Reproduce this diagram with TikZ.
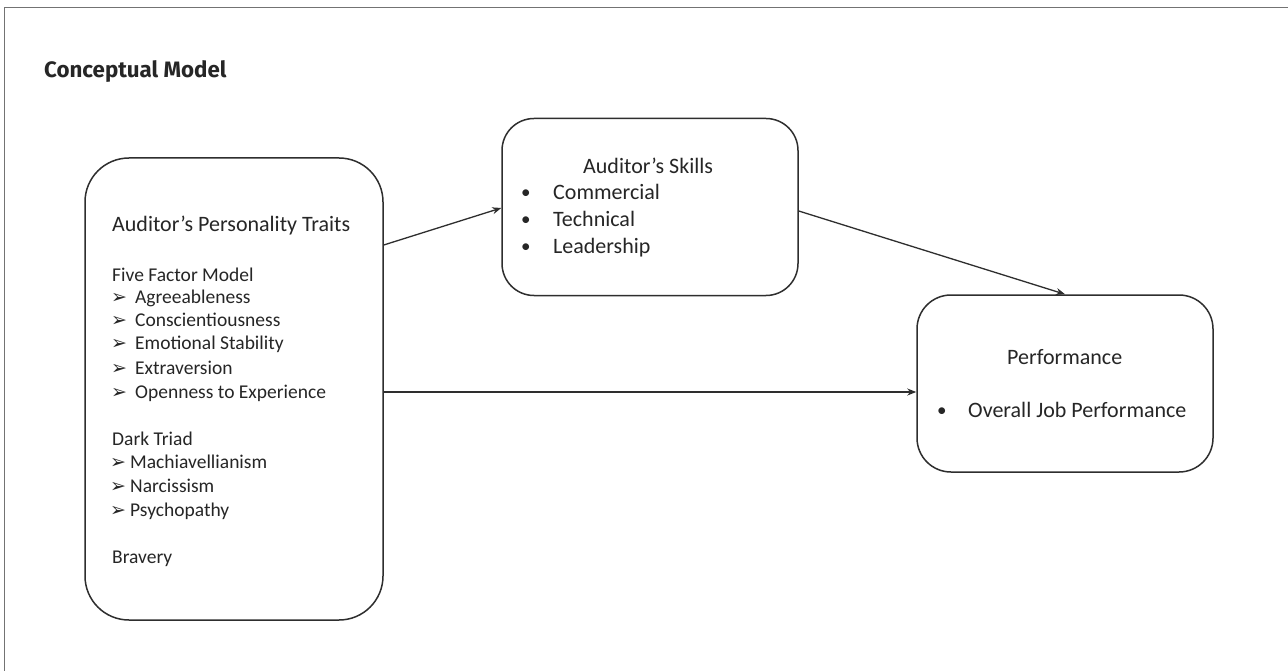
\documentclass[tikz,border=0pt]{standalone}
\usepackage{fontspec}
\setmainfont{Carlito}
\newfontfamily\titlefont{Fira Sans}
\newfontfamily\symfont{DejaVu Sans}
\usetikzlibrary{arrows.meta}
\definecolor{txt}{HTML}{262626}
\definecolor{ln}{HTML}{2E2E2E}
\begin{document}
\begin{tikzpicture}[x=1pt,y=-1pt,
  box/.style={draw=ln, line width=1.5pt, rectangle},
  lbl/.style={anchor=base west, inner sep=0pt, text=txt, font=\fontsize{19.5}{23}\selectfont},
  hd/.style={anchor=base west, inner sep=0pt, text=txt, font=\fontsize{22}{26}\selectfont},
  sk/.style={anchor=base west, inner sep=0pt, text=txt, font=\fontsize{22}{26}\selectfont},
  bul/.style={anchor=base west, inner sep=0pt, text=txt, font=\fontsize{19}{22}\selectfont},
  arr/.style={anchor=base west, inner sep=0pt, text=txt, font=\symfont\fontsize{19}{22}\selectfont},
  link/.style={draw=ln, line width=1.3pt, -{Stealth[length=9pt,width=7pt]}}]
\useasboundingbox (0,0) rectangle (1288,671);
\fill[white] (0,0) rectangle (1288,671);
\draw[gray!90!black, line width=1.6pt] (4.5,671) -- (4.5,7.5) -- (1288,7.5);
\node[anchor=base west, inner sep=0pt, text=txt, font=\titlefont\bfseries\fontsize{22.3}{26}\selectfont] (title) at (44,78) {Conceptual Model};
% boxes
\node[box, rounded corners=44pt, minimum width=298pt, minimum height=462pt] (traits) at (234,389) {};
\node[box, rounded corners=32pt, minimum width=296pt, minimum height=177pt] (skills) at (650,207) {};
\node[box, rounded corners=34pt, minimum width=296pt, minimum height=177pt] (perf) at (1065,383.5) {};
% traits text
\node[hd] (th) at (112,232) {Auditor’s Personality Traits};
\node[lbl] (ff) at (112,281) {Five Factor Model};
\node[arr] (a1) at (111,303) {➢};
\node[lbl] (f1) at (135,303) {Agreeableness};
\node[arr] (a2) at (111,326) {➢};
\node[lbl] (f2) at (135,326) {Conscientiousness};
\node[arr] (a3) at (111,349) {➢};
\node[lbl] (f3) at (135,349) {Emotional Stability};
\node[arr] (a4) at (111,374) {➢};
\node[lbl] (f4) at (135,374) {Extraversion};
\node[arr] (a5) at (111,398) {➢};
\node[lbl] (f5) at (135,398) {Openness to Experience};
\node[lbl] (dt) at (112,445) {Dark Triad};
\node[arr] (b1) at (110,468) {➢};
\node[lbl] (d1) at (130,468) {Machiavellianism};
\node[arr] (b2) at (110,492) {➢};
\node[lbl] (d2) at (130,492) {Narcissism};
\node[arr] (b3) at (110,516) {➢};
\node[lbl] (d3) at (130,516) {Psychopathy};
\node[lbl] (br) at (112,563) {Bravery};
% skills text
\node[hd] (sh) at (583,174) {Auditor’s Skills};
\node[bul] (sb1) at (521,199) {•};
\node[sk] (s1) at (553,200) {Commercial};
\node[bul] (sb2) at (521,226) {•};
\node[sk] (s2) at (553,227) {Technical};
\node[bul] (sb3) at (521,253) {•};
\node[sk] (s3) at (553,254) {Leadership};
% performance text
\node[hd] (ph) at (1007,364) {Performance};
\node[bul] (pb1) at (937,416) {•};
\node[sk] (p1) at (968,417) {Overall Job Performance};
% connectors
\draw[link] (traits.east |- 0,245) -- (skills.west |- 0,208);
\draw[link] (skills.east |- 0,211) -- (perf.north);
\draw[link] (traits.east |- 0,392) -- (perf.west |- 0,392);
\end{tikzpicture}
\end{document}
